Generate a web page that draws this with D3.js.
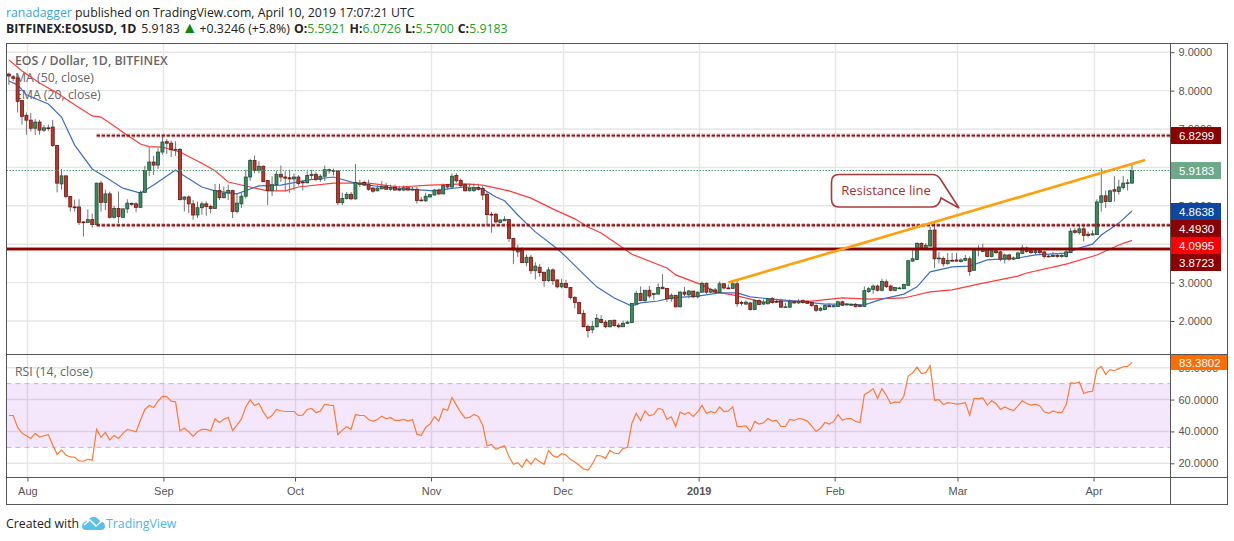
<!DOCTYPE html>
<html>
<head>
    <title>EOS / Dollar, 1D, BITFINEX</title>
    <script src="https://d3js.org/d3.v7.min.js"></script>
    <style>
        html, body { margin: 0; padding: 0; background: #fff; }
        svg { display: block; }
        .head { font: 12.3px "Open Sans", sans-serif; fill: #222; }
        .pane-label { font: 12.3px "Open Sans", sans-serif; fill: #666; }
        .axis text { font: 11px "Liberation Sans", sans-serif; fill: #555; }
        .axis line { stroke: #555; }
        .axis path { display: none; }
        .tag { font: 11.5px "Liberation Sans", sans-serif; fill: #fff; }
    </style>
</head>
<body>
    <svg width="1234" height="541"></svg>

    <script>
    // daily candles, 28 Jul 2018 to 10 Apr 2019 (10 per row)
    const firstDay = Date.UTC(2018, 6, 28);
    const lastDay = Date.UTC(2019, 3, 10);

    const opens = [
        8.43,8.36,8.33,7.74,7.35,7.23,7.02,7.18,6.97,7.03,
        7.05,6.57,5.57,5.78,5.24,4.97,4.97,4.58,4.57,4.64,
        4.51,5.59,5.09,5.31,4.70,4.93,4.70,4.92,5.06,5.05,
        4.96,5.35,5.92,6.14,6.06,6.40,6.67,6.63,6.46,6.47,
        5.17,5.23,5.05,4.76,4.95,5.05,4.98,4.93,5.40,5.21,
        5.33,5.40,4.85,5.05,5.25,5.75,6.18,5.92,6.03,5.66,
        5.40,5.55,5.82,5.75,5.73,5.70,5.75,5.62,5.60,5.79,
        5.82,5.69,5.77,5.94,5.92,5.91,5.08,5.19,5.30,5.18,
        5.56,5.61,5.55,5.46,5.39,5.44,5.51,5.43,5.48,5.43,
        5.41,5.47,5.43,5.43,5.15,5.13,5.23,5.28,5.41,5.31,
        5.55,5.49,5.79,5.66,5.55,5.39,5.40,5.48,5.45,5.30,
        4.78,4.78,4.57,4.61,4.64,4.15,3.80,3.86,3.52,3.66,
        3.31,3.40,3.27,3.05,3.33,3.07,2.89,2.98,2.87,2.61,
        2.48,2.20,1.86,1.77,1.85,2.04,1.97,1.85,2.02,1.89,
        1.85,1.94,1.96,2.44,2.72,2.53,2.80,2.69,2.70,2.88,
        2.85,2.58,2.67,2.37,2.75,2.68,2.78,2.63,2.75,2.98,
        2.75,2.81,2.74,2.97,2.86,2.85,2.97,2.48,2.44,2.47,
        2.30,2.53,2.44,2.45,2.58,2.51,2.52,2.37,2.36,2.50,
        2.47,2.53,2.51,2.48,2.40,2.28,2.30,2.40,2.37,2.38,
        2.50,2.42,2.43,2.43,2.40,2.38,2.77,2.82,2.91,2.80,
        3.02,2.91,2.80,2.85,2.84,2.93,3.56,3.60,4.02,3.88,
        3.95,4.37,3.62,3.63,3.50,3.58,3.59,3.55,3.58,3.62,
        3.32,3.87,3.81,3.87,3.68,3.83,3.80,3.61,3.72,3.61,
        3.63,3.76,3.90,3.83,3.78,3.83,3.80,3.69,3.68,3.71,
        3.68,3.68,3.78,4.35,4.30,4.40,4.26,4.24,4.25,5.09,
        5.26,5.11,5.42,5.37,5.48,5.59,5.5921
    ];
    const highs = [
        8.47,8.40,8.40,7.75,7.43,7.42,7.26,7.24,7.10,7.11,
        7.24,6.57,5.96,5.78,5.24,5.16,5.17,4.60,4.91,4.80,
        5.60,5.65,5.42,5.37,5.00,5.37,4.93,5.17,5.09,5.09,
        5.40,6.04,6.52,6.30,6.50,6.85,6.74,6.70,6.68,6.50,
        5.25,5.27,5.15,5.11,5.11,5.11,5.03,5.57,5.57,5.50,
        5.55,5.42,5.33,5.35,5.94,6.22,6.31,6.16,6.05,5.67,
        5.77,5.90,6.05,5.90,5.94,5.84,5.80,5.68,5.90,5.94,
        5.88,5.82,6.05,5.97,5.97,5.92,5.34,5.36,5.36,6.09,
        5.68,5.66,5.68,5.49,5.54,5.64,5.60,5.55,5.55,5.52,
        5.53,5.47,5.49,5.49,5.23,5.34,5.30,5.44,5.45,5.58,
        5.56,5.84,5.85,5.71,5.58,5.58,5.58,5.58,5.51,5.36,
        4.84,4.82,4.65,4.73,4.65,4.16,3.98,3.92,3.74,3.72,
        3.53,3.48,3.27,3.40,3.37,3.08,3.10,3.07,2.88,2.65,
        2.50,2.29,1.91,2.00,2.18,2.15,2.02,2.03,2.03,1.94,
        2.01,2.01,2.46,2.79,2.90,2.81,2.91,2.72,2.98,3.22,
        2.85,2.72,2.67,2.79,2.89,2.81,2.78,2.77,3.03,3.00,
        2.86,2.86,3.03,2.99,2.95,3.03,3.08,2.53,2.53,2.50,
        2.56,2.56,2.56,2.60,2.62,2.58,2.58,2.47,2.57,2.51,
        2.57,2.56,2.53,2.52,2.43,2.37,2.43,2.47,2.43,2.53,
        2.53,2.47,2.46,2.47,2.43,2.90,2.89,2.95,2.95,3.10,
        3.08,2.95,2.89,2.89,2.97,3.58,3.90,4.05,4.05,4.03,
        4.45,4.54,3.80,3.68,3.77,3.77,3.77,3.63,3.72,3.68,
        3.89,3.98,4.01,3.90,3.89,3.85,3.83,3.75,3.75,3.68,
        3.81,3.98,3.94,3.87,3.87,3.85,3.82,3.72,3.80,3.75,
        3.77,3.85,4.42,4.42,4.48,4.48,4.33,4.36,5.17,5.98,
        5.40,5.42,5.77,5.68,5.78,5.70,6.0726
    ];
    const lows = [
        8.15,8.25,7.43,7.11,6.85,6.94,6.85,6.85,6.92,6.95,
        6.53,5.35,5.42,5.20,4.85,4.85,4.50,4.20,4.55,4.43,
        4.50,4.85,4.89,4.67,4.67,4.55,4.70,4.81,5.00,4.83,
        4.95,5.34,5.77,5.80,5.96,6.33,6.35,6.27,6.30,5.14,
        4.85,4.81,4.64,4.68,4.77,4.74,4.80,4.93,5.15,5.20,
        5.15,4.68,4.80,4.94,5.19,5.65,5.85,5.85,5.62,5.02,
        5.25,5.40,5.62,5.38,5.34,5.40,5.53,5.40,5.58,5.68,
        5.64,5.62,5.65,5.84,5.79,5.02,5.02,5.16,5.16,5.16,
        5.49,5.52,5.39,5.34,5.38,5.44,5.43,5.39,5.40,5.38,
        5.38,5.40,5.40,5.06,5.13,5.10,5.22,5.27,5.28,5.30,
        5.42,5.47,5.60,5.49,5.38,5.38,5.36,5.40,5.15,4.50,
        4.30,4.54,4.54,4.61,4.06,3.48,3.67,3.52,3.43,3.22,
        3.08,3.15,2.89,3.02,2.94,2.85,2.85,2.85,2.56,2.33,
        2.19,1.85,1.57,1.68,1.83,1.94,1.81,1.83,1.85,1.81,
        1.85,1.92,1.94,2.41,2.52,2.50,2.59,2.55,2.70,2.84,
        2.50,2.50,2.35,2.35,2.65,2.59,2.59,2.59,2.74,2.70,
        2.73,2.73,2.73,2.82,2.83,2.83,2.37,2.40,2.43,2.27,
        2.28,2.41,2.43,2.43,2.45,2.47,2.34,2.35,2.34,2.45,
        2.45,2.45,2.44,2.37,2.23,2.25,2.28,2.36,2.36,2.37,
        2.39,2.40,2.41,2.35,2.37,2.37,2.73,2.71,2.77,2.77,
        2.86,2.77,2.77,2.83,2.83,2.93,3.54,3.58,3.86,3.84,
        3.95,3.38,3.50,3.42,3.46,3.55,3.55,3.52,3.57,3.18,
        3.31,3.68,3.79,3.66,3.66,3.75,3.55,3.50,3.57,3.59,
        3.62,3.75,3.78,3.75,3.73,3.73,3.63,3.66,3.66,3.65,
        3.65,3.65,3.77,4.27,4.25,4.07,4.18,4.23,4.24,4.85,
        4.94,5.10,5.11,5.29,5.42,5.40,5.57
    ];
    const closes = [
        8.38,8.32,7.72,7.33,7.23,7.02,7.18,6.97,7.03,7.02,
        6.57,5.59,5.78,5.24,4.97,4.96,4.57,4.56,4.64,4.51,
        5.59,5.09,5.31,4.70,4.93,4.72,4.92,5.07,5.05,4.96,
        5.35,5.92,6.14,6.06,6.40,6.66,6.63,6.46,6.47,5.16,
        5.23,5.05,4.76,4.95,5.05,4.98,4.93,5.40,5.21,5.33,
        5.40,4.85,5.07,5.25,5.75,6.18,5.92,6.03,5.63,5.40,
        5.55,5.82,5.75,5.72,5.70,5.75,5.58,5.60,5.79,5.82,
        5.69,5.77,5.94,5.91,5.92,5.08,5.19,5.30,5.18,5.61,
        5.59,5.54,5.43,5.38,5.46,5.51,5.43,5.48,5.41,5.42,
        5.47,5.41,5.43,5.14,5.14,5.25,5.29,5.41,5.31,5.53,
        5.49,5.77,5.65,5.52,5.39,5.45,5.47,5.43,5.28,4.77,
        4.77,4.58,4.63,4.65,4.15,3.85,3.86,3.52,3.66,3.31,
        3.43,3.26,3.05,3.33,3.05,2.89,2.98,2.87,2.61,2.48,
        2.19,1.85,1.75,1.86,2.07,1.96,1.85,2.01,1.88,1.85,
        1.94,1.97,2.46,2.72,2.53,2.80,2.65,2.72,2.87,2.84,
        2.58,2.67,2.37,2.75,2.70,2.78,2.63,2.75,2.98,2.75,
        2.82,2.75,2.97,2.86,2.85,2.97,2.45,2.47,2.49,2.30,
        2.53,2.43,2.49,2.58,2.48,2.49,2.36,2.37,2.50,2.47,
        2.51,2.48,2.46,2.40,2.28,2.33,2.40,2.37,2.40,2.50,
        2.41,2.44,2.43,2.38,2.39,2.79,2.84,2.91,2.80,3.03,
        2.90,2.80,2.87,2.86,2.95,3.57,3.62,4.02,3.89,3.97,
        4.36,3.62,3.64,3.49,3.58,3.57,3.56,3.59,3.63,3.29,
        3.87,3.87,3.87,3.68,3.85,3.78,3.61,3.72,3.61,3.64,
        3.77,3.90,3.81,3.78,3.83,3.78,3.68,3.68,3.71,3.68,
        3.71,3.80,4.34,4.31,4.40,4.23,4.23,4.27,5.10,5.26,
        5.11,5.39,5.38,5.49,5.59,5.60,5.9183
    ];
    const rsiValues = [
        50,50,42.5,39,37.3,35.6,38.8,36.5,37.3,38,
        31.5,25.6,28.3,25.2,24,23.8,21.5,21.3,22.5,22,
        41.3,36.3,39.4,34.6,37.5,35.6,38.8,41.3,40.6,39.8,
        47,53.8,56.3,55,59,62,61.9,59,58.5,40.4,
        42,39.8,36.9,39.8,41.3,41.3,40.4,48,45.6,47.7,
        48.8,40.6,44,47.7,55.4,59.8,56.3,57.5,52.3,48.1,
        50,53.8,53,52.5,52.5,52.5,50,50.2,53.8,54.4,
        51.9,52.7,56.9,56.5,56.3,38,40.8,43,41.3,50.6,
        50,50,47.5,46.3,47.5,49.6,47.9,48.8,46.9,46.9,
        47.5,46.5,47.5,38.3,37.5,42.5,44.6,49.2,46.5,54.2,
        53.3,61.3,56.5,51.9,48.3,48.8,50.6,49.4,44,31,
        31.9,28.8,30,31,24.2,19.4,20.4,17.5,22.5,19.4,
        23.1,21,19.4,28.1,24.8,23.8,26,25.2,22.5,20.8,
        18.8,16.5,15.8,19.6,25,24.6,23.1,28.1,26.3,26,
        29.2,30,45,51.3,46.7,52.9,49.8,50.6,54.4,53.8,
        47.5,49.2,43.1,52.1,50.8,51.9,49.4,52.3,56.3,51.3,
        52.5,51.5,55.4,52.5,52.9,55.4,43.1,43.1,43.5,40,
        46.3,44.6,45.4,48.1,46.5,46.9,43.1,43.1,47.5,46.9,
        48.1,47.7,46.5,43.3,40,42,45.6,44.6,46.3,50.6,
        47,48.1,48.1,46.3,45.6,63.1,64.8,66.9,60.6,66.9,
        62.7,57.5,58.5,58.1,62.1,74.8,76.7,80.4,76.3,76.9,
        81.3,59.6,60,56.9,58.1,57.7,57.1,57.5,58.1,50.2,
        60.8,60.6,61,56.5,59.2,57.5,53.8,55.4,54,53.1,
        56,59.2,57.5,56.5,57.1,56,52.3,51.3,52.9,51.9,
        51.9,56.5,70.4,70.2,71,63.8,64.8,65.2,78.8,80.8,
        75.8,78.8,78.1,79.4,80.6,80.8,83.38
    ];

    // moving averages: vertices, days counted from 1 Aug 2018
    const ma50Days = [-4,-1,3,7,11,15,17,20,23,26,28,31,35,40,43,46,51,55,59,62,70,78,85,92,100,104,110,115,120,125,128,131,136,138,146,148,154,157,161,168,172,179,186,192,200,206,211,217,226,228,237,244,249,252];
    const ma50Values = [8.80,8.51,8.2,7.94,7.63,7.34,7.31,7.08,6.84,6.61,6.54,6.53,6.4,6.11,5.91,5.62,5.49,5.39,5.39,5.49,5.59,5.59,5.49,5.54,5.57,5.54,5.39,5.2,4.92,4.66,4.45,4.29,3.9,3.74,3.38,3.2,2.94,2.76,2.68,2.49,2.52,2.52,2.6,2.57,2.6,2.76,2.81,2.96,3.17,3.25,3.48,3.72,3.98,4.0995];
    const ema20Days = [-4,-2,0,5,8,11,15,18,22,26,29,34,35,40,43,48,53,58,64,70,75,81,86,93,96,100,104,107,109,112,116,121,123,126,130,134,138,140,144,147,153,158,162,165,170,178,182,187,191,195,200,203,206,211,215,219,226,230,237,240,243,245,249,252];
    const ema20Values = [8.25,8.15,7.89,7.65,7.31,6.58,5.96,5.75,5.46,5.33,5.54,5.93,5.85,5.49,5.39,5.31,5.52,5.54,5.67,5.75,5.59,5.49,5.44,5.39,5.44,5.49,5.44,5.23,5.13,4.76,4.32,3.88,3.67,3.33,2.89,2.6,2.39,2.47,2.52,2.6,2.65,2.73,2.73,2.63,2.57,2.49,2.44,2.44,2.42,2.57,2.7,2.89,3.28,3.41,3.43,3.59,3.64,3.72,3.77,3.9,4.0,4.24,4.55,4.8638];

    // drawn levels and the resistance trend line
    const levelTop = 6.8299, levelMid = 4.4930, levelLow = 3.8723;
    const lastClose = 5.9183, lastMa50 = 4.0995, lastEma20 = 4.8638, lastRsi = 83.3802;
    const levelStartDay = 16;
    const trendDays = [160, 255];
    const trendValues = [3.0, 6.19];

    // axis ticks
    const priceTicks = [2, 3, 4, 5, 6, 7, 8, 9];
    const rsiTicks = [20, 40, 60, 80];
    const monthTicks = [[2018,7],[2018,8],[2018,9],[2018,10],[2018,11],[2019,0],[2019,1],[2019,2],[2019,3]].map(d => new Date(Date.UTC(d[0], d[1], 1)));
    const monthLabels = ["Aug","Sep","Oct","Nov","Dec","2019","Feb","Mar","Apr"];

    const dates = d3.utcDay.range(new Date(firstDay), new Date(lastDay + 1));
    const candles = dates.map((d, i) => ({ date: d, o: opens[i], h: highs[i], l: lows[i], c: closes[i], rsi: rsiValues[i] }));
    const aug1 = new Date(Date.UTC(2018, 7, 1));
    const dayDate = k => d3.utcDay.offset(aug1, k);

    const svg = d3.select("svg");
    const left = 6.5, right = 1170.5, outer = 1227.5, top_ = 43.5, mainBottom = 354.5, rsiBottom = 477.5, bottom = 504.5;

    const x = d3.scaleUtc().domain([aug1, monthTicks[8]]).range([26.4, 1092.5]);
    const y = d3.scaleLinear().domain([2, 9]).range([321, 52.2]);
    const yRsi = d3.scaleLinear().domain([20, 80]).range([463.3, 367.7]);
    const gridX = d => Math.round(x(d) + 1) + 0.5;

    // header
    const head1 = svg.append("text").attr("class", "head").attr("x", 6).attr("y", 17);
    head1.append("tspan").style("fill", "#3ba7dd").text("ranadagger");
    head1.append("tspan").text(" published on TradingView.com, April 10, 2019 17:07:21 UTC");

    const green = "#1f9e25";
    const head2 = svg.append("text").attr("class", "head").attr("x", 6).attr("y", 33);
    head2.append("tspan").style("font-weight", "700").text("BITFINEX:EOSUSD, 1D");
    head2.append("tspan").attr("dx", 5).text("5.9183");
    head2.append("tspan").attr("dx", 2).style("fill", "#0a8a0a").style("font-size", "16px").text("▲");
    head2.append("tspan").attr("dx", 2).text("+0.3246 (+5.8%)");
    head2.append("tspan").attr("dx", 4).style("font-weight", "700").text("O:");
    head2.append("tspan").style("fill", green).text("5.5921");
    head2.append("tspan").attr("dx", 4).style("font-weight", "700").text("H:");
    head2.append("tspan").style("fill", green).text("6.0726");
    head2.append("tspan").attr("dx", 4).style("font-weight", "700").text("L:");
    head2.append("tspan").style("fill", green).text("5.5700");
    head2.append("tspan").attr("dx", 4).style("font-weight", "700").text("C:");
    head2.append("tspan").style("fill", green).text("5.9183");

    // grid
    const grid = svg.append("g").attr("stroke", "#e6e6e6").attr("stroke-width", 1.4);
    grid.selectAll(".gv").data(monthTicks).enter().append("line")
        .attr("x1", gridX).attr("x2", gridX).attr("y1", top_).attr("y2", rsiBottom);
    grid.selectAll(".gh").data(priceTicks).enter().append("line")
        .attr("x1", left).attr("x2", right).attr("y1", d => y(d)).attr("y2", d => y(d));
    grid.selectAll(".gr").data(rsiTicks).enter().append("line")
        .attr("x1", left).attr("x2", right).attr("y1", d => yRsi(d)).attr("y2", d => yRsi(d));

    // rsi band
    svg.append("rect").attr("x", left).attr("width", right - left)
        .attr("y", yRsi(70)).attr("height", yRsi(30) - yRsi(70))
        .attr("fill", "#9c27e8").attr("fill-opacity", 0.11);
    [70, 30].forEach(v => {
        svg.append("line").attr("x1", left).attr("x2", right).attr("y1", yRsi(v)).attr("y2", yRsi(v))
            .attr("stroke", "#c3b2ca").attr("stroke-width", 1).attr("stroke-dasharray", "5,4");
    });

    // pane labels
    svg.append("text").attr("class", "pane-label").attr("x", 15).attr("y", 65).style("font-weight", "600").text("EOS / Dollar, 1D, BITFINEX");
    svg.append("text").attr("class", "pane-label").attr("x", 15).attr("y", 82).text("MA (50, close)");
    svg.append("text").attr("class", "pane-label").attr("x", 15).attr("y", 99).text("EMA (20, close)");
    svg.append("text").attr("class", "pane-label").attr("x", 15).attr("y", 376).text("RSI (14, close)");

    // moving averages
    const lineOf = (days, values) => d3.line().x(d => x(dayDate(days[d]))).y(d => y(values[d]))(d3.range(days.length));
    svg.append("path").attr("d", lineOf(ma50Days, ma50Values)).attr("fill", "none").attr("stroke", "#ff3b3b").attr("stroke-width", 1.2);
    svg.append("path").attr("d", lineOf(ema20Days, ema20Values)).attr("fill", "none").attr("stroke", "#3a6fc8").attr("stroke-width", 1.2);

    // candles
    const candle = svg.append("g").selectAll("g").data(candles).enter().append("g");
    candle.append("line")
        .attr("x1", d => x(d.date)).attr("x2", d => x(d.date))
        .attr("y1", d => y(d.h)).attr("y2", d => y(d.l))
        .attr("stroke", "#737373").attr("stroke-width", 1);
    candle.append("rect")
        .attr("x", d => x(d.date) - 1.5).attr("width", 3)
        .attr("y", d => y(Math.max(d.o, d.c)))
        .attr("height", d => Math.max(0.8, Math.abs(y(d.o) - y(d.c))))
        .attr("fill", d => d.c >= d.o ? "#3c8a62" : "#b8382c")
        .attr("stroke", d => d.c >= d.o ? "#1f4f36" : "#6e1710")
        .attr("stroke-width", 0.8);

    // rsi line
    const rsiLine = d3.line().x(d => x(d.date)).y(d => yRsi(d.rsi));
    svg.append("path").attr("d", rsiLine(candles)).attr("fill", "none").attr("stroke", "#ff7a33").attr("stroke-width", 1.2);

    // current price line
    svg.append("line").attr("x1", left).attr("x2", right).attr("y1", y(lastClose)).attr("y2", y(lastClose))
        .attr("stroke", "#4f9d74").attr("stroke-width", 1).attr("stroke-dasharray", "1.5,1.5");

    // drawn levels
    const levelX = x(dayDate(levelStartDay));
    [levelTop, levelMid].forEach(v => {
        svg.append("line").attr("x1", levelX).attr("x2", right).attr("y1", y(v)).attr("y2", y(v))
            .attr("stroke", "#8b0000").attr("stroke-opacity", 0.3).attr("stroke-width", 4).attr("stroke-dasharray", "3.4,1.6");
        svg.append("line").attr("x1", levelX).attr("x2", right).attr("y1", y(v)).attr("y2", y(v))
            .attr("stroke", "#9a1010").attr("stroke-width", 1.8).attr("stroke-dasharray", "3.4,1.6");
    });
    svg.append("line").attr("x1", left).attr("x2", right).attr("y1", y(levelLow)).attr("y2", y(levelLow))
        .attr("stroke", "#8b0000").attr("stroke-opacity", 0.45).attr("stroke-width", 4);
    svg.append("line").attr("x1", left).attr("x2", right).attr("y1", y(levelLow)).attr("y2", y(levelLow))
        .attr("stroke", "#8b0000").attr("stroke-width", 2);

    // resistance trend line
    svg.append("line")
        .attr("x1", x(dayDate(trendDays[0]))).attr("y1", y(trendValues[0]))
        .attr("x2", x(dayDate(trendDays[1]))).attr("y2", y(trendValues[1]))
        .attr("stroke", "#ff9f0a").attr("stroke-width", 2.6);

    // callout
    svg.append("path")
        .attr("d", "M839 174.5H932Q938 174.5 941 180L959 208L941 198Q939 207 932 207H839Q831.5 207 831.5 199V182Q831.5 174.5 839 174.5Z")
        .attr("fill", "#fff").attr("stroke", "#a83b3b").attr("stroke-width", 1.6);
    svg.append("text").attr("x", 886).attr("y", 194.5).attr("text-anchor", "middle")
        .style("font", "13px 'Open Sans', sans-serif").style("fill", "#a83232").text("Resistance line");

    // axes
    const xAxis = d3.axisBottom(x).tickValues(monthTicks).tickSize(4).tickPadding(6)
        .tickFormat((d, i) => monthLabels[i]);
    const xg = svg.append("g").attr("class", "axis").attr("transform", `translate(1,${rsiBottom})`).call(xAxis);
    xg.selectAll("text").filter((d, i) => monthLabels[i] === "2019").style("font-weight", "700");

    const priceAxis = d3.axisRight(y).tickValues(priceTicks).tickSize(4).tickPadding(4).tickFormat(d3.format(".4f"));
    svg.append("g").attr("class", "axis").attr("transform", `translate(${right},0)`).call(priceAxis);
    const rsiAxis = d3.axisRight(yRsi).tickValues(rsiTicks).tickSize(4).tickPadding(4).tickFormat(d3.format(".4f"));
    svg.append("g").attr("class", "axis").attr("transform", `translate(${right},0)`).call(rsiAxis);

    // price tags stacked on the axis
    const tags = [
        { label: levelTop, fill: "#8b0000", mid: y(levelTop) },
        { label: lastClose, fill: "#6ea88a", mid: y(lastClose) },
        { label: lastEma20, fill: "#0d47a1", mid: 211.5 },
        { label: levelMid, fill: "#8b0000", mid: 228.5 },
        { label: lastMa50, fill: "#ff0000", mid: 245.5 },
        { label: levelLow, fill: "#8b0000", mid: 262.5 }
    ];
    const tag = svg.append("g").selectAll("g").data(tags).enter().append("g");
    tag.append("rect").attr("x", right).attr("width", 50.5).attr("y", d => d.mid - 8.5).attr("height", 17).attr("fill", d => d.fill);
    tag.append("text").attr("class", "tag").attr("x", 1179).attr("y", d => d.mid + 4).text(d => d.label.toFixed(4));

    svg.append("rect").attr("x", right).attr("width", outer - right).attr("y", 355).attr("height", 15).attr("fill", "#ff6d00");
    svg.append("text").attr("class", "tag").attr("x", 1179).attr("y", 366.5).text(lastRsi.toFixed(4));

    // frame
    const frame = svg.append("g").attr("stroke", "#555").attr("stroke-width", 1).attr("fill", "none");
    frame.append("rect").attr("x", left).attr("y", top_).attr("width", outer - left).attr("height", bottom - top_);
    frame.append("line").attr("x1", right).attr("x2", right).attr("y1", top_).attr("y2", bottom);
    frame.append("line").attr("x1", left).attr("x2", outer).attr("y1", mainBottom).attr("y2", mainBottom);
    frame.append("line").attr("x1", left).attr("x2", outer).attr("y1", rsiBottom).attr("y2", rsiBottom);

    // footer
    svg.append("text").attr("class", "head").attr("x", 6).attr("y", 528).text("Created with");
    svg.append("path")
        .attr("d", "M82 526Q83 521 88 521Q91 516 95 517Q98 518 100 521Q105 522 105 526Q105 530 101 530H86Q82 530 82 526Z")
        .attr("fill", "#5cc0ea");
    svg.append("path").attr("d", "M84 525L90 520L96 526L102 521").attr("fill", "none").attr("stroke", "#fff").attr("stroke-width", 1.6);
    svg.append("text").attr("class", "head").attr("x", 106).attr("y", 528).style("fill", "#4fb6e6").text("TradingView");
    </script>
</body>
</html>
